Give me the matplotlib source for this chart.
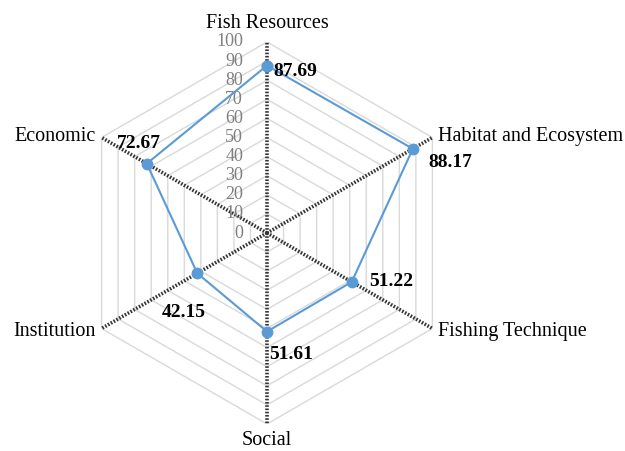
import numpy as np
import matplotlib
matplotlib.use("Agg")
import matplotlib.pyplot as plt

categories = ["Fish Resources", "Habitat and Ecosystem", "Fishing Technique",
              "Social", "Institution", "Economic"]
values = [87.69, 88.17, 51.22, 51.61, 42.15, 72.67]
ticks = list(range(0, 101, 10))

W, H = 625, 451
fig = plt.figure(figsize=(W / 100, H / 100), dpi=100)
cx, cy, R = 267, 233, 191
ax = fig.add_axes([(cx - R) / W, (H - cy - R) / H, 2 * R / W, 2 * R / H], projection="polar")
ax.set_theta_zero_location("N")
ax.set_theta_direction(-1)
ax.set_ylim(0, 100)
ax.grid(False)
ax.spines["polar"].set_visible(False)
ax.set_xticks([])
ax.set_yticks([])
ax.patch.set_visible(False)

n = len(categories)
theta = np.arange(n) * 2 * np.pi / n
closed_t = np.append(theta, theta[0])

serif = ["Liberation Serif", "DejaVu Serif"]

# hexagon grid
for t in ticks[1:]:
    ax.plot(closed_t, [t] * (n + 1), color="#D9D9D9", lw=1.0, zorder=1)

# spokes
for th in theta:
    ax.plot([th, th], [0, 100], color="#333333", lw=2.6,
            linestyle=(0, (0.45, 0.45)), zorder=2, solid_capstyle="butt",
            dash_capstyle="butt")

# radial tick labels
for t in ticks:
    ax.annotate(str(t), xy=(0, t), xytext=(-24, 0), textcoords="offset pixels",
                ha="right", va="center", color="#7f7f7f", fontsize=13,
                family=serif, zorder=3)

# data line
vals_closed = values + [values[0]]
ax.plot(closed_t, vals_closed, color="#5B9BD5", lw=1.5, marker="o",
        markersize=7.5, markerfacecolor="#5B9BD5", markeredgecolor="#5B9BD5", zorder=4)

# value labels (offsets in pixels)
offsets = [(6, -6, "left"), (16, -14, "left"), (17, 0, "left"),
           (2, -23, "left"), (8, -39, "right"), (-8, 20, "center")]
for th, v, (dx, dy, ha) in zip(theta, values, offsets):
    ax.annotate(f"{v:.2f}", xy=(th, v), xytext=(dx, dy), textcoords="offset pixels",
                ha=ha, va="center", fontsize=14, fontweight="bold",
                family=serif, color="black", zorder=5)

# category labels
cat_pos = [(0, 9, "center", "bottom"), (6, 1, "left", "center"),
           (6, -3, "left", "center"), (0, -7, "center", "top"),
           (-6, -3, "right", "center"), (-6, 1, "right", "center")]
for th, c, (dx, dy, ha, va) in zip(theta, categories, cat_pos):
    ax.annotate(c, xy=(th, 100), xytext=(dx, dy), textcoords="offset pixels",
                ha=ha, va=va, fontsize=14.5, family=serif, color="black",
                annotation_clip=False)

fig.savefig("out.png", dpi=100)
